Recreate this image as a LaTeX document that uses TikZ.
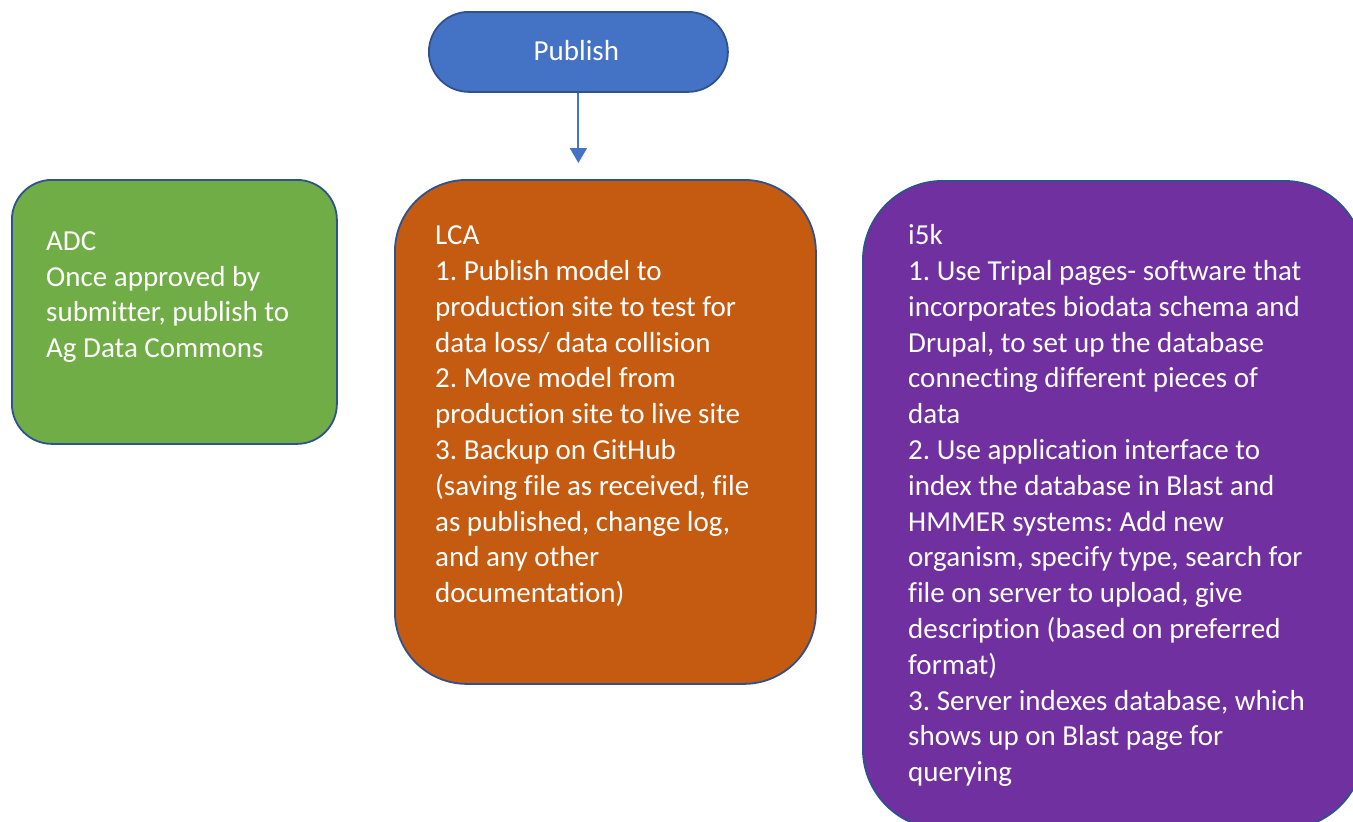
\documentclass[tikz,border=0pt]{standalone}
\usepackage{fontspec}
\setmainfont[Ligatures=NoCommon]{Carlito}
\usetikzlibrary{arrows.meta,positioning}
\definecolor{pubblue}{HTML}{4472C4}
\definecolor{edgeblue}{HTML}{2F528F}
\definecolor{adcgreen}{HTML}{70AD47}
\definecolor{lcaorange}{HTML}{C55A11}
\definecolor{ifivepurple}{HTML}{7030A0}
\newcommand{\firstline}{\rule{0pt}{25pt}}
\frenchspacing
\tikzset{
  x=1pt, y=-1pt,
  panel/.style={draw=edgeblue, line width=1.8pt, inner sep=0pt, anchor=north west},
  paneltext/.style={text=white, align=left, inner sep=0pt, anchor=north west,
    font=\fontsize{29}{35.8}\selectfont},
  flow/.style={draw=pubblue, line width=2pt, -{Triangle[length=15pt,width=17pt]}}
}
\begin{document}
\begin{tikzpicture}
\useasboundingbox (0,0) rectangle (1353,822);
\begin{scope}
\clip (0,0) rectangle (1353,822);
% start node
\node[panel, fill=pubblue, rounded corners=40pt, minimum width=299pt, minimum height=80pt]
  (pub) at (428,11) {};
% three repository panels
\node[panel, fill=adcgreen, rounded corners=40pt, minimum width=325pt, minimum height=264pt]
  (adc) at (11,179) {};
\node[panel, fill=lcaorange, rounded corners=72pt, minimum width=421pt, minimum height=504pt]
  (lca) at (394,179) {};
\node[panel, fill=ifivepurple, rounded corners=80pt, minimum width=501pt, minimum height=648pt]
  (i5k) at (862,180) {};
\end{scope}
\node[text=white, font=\fontsize{29}{35}\selectfont] (pubtext) at ([yshift=1pt,xshift=-2pt]pub.center) {Publish};
% panel texts (first baseline 25pt below the given top)
\node[paneltext] (adctext) at (46,225) {\firstline ADC\\Once approved by\\submitter, publish to\\Ag Data Commons};
\node[paneltext] (lcatext) at (435,219.5) {\firstline LCA\\1. Publish model to\\production site to test for\\data loss/ data collision\\2. Move model from\\production site to live site\\3. Backup on GitHub\\(saving file as received, file\\as published, change log,\\and any other\\documentation)};
\node[paneltext] (i5ktext) at (908,219.5) {\firstline i5k\\1. Use Tripal pages- software that\\incorporates biodata schema and\\Drupal, to set up the database\\connecting different pieces of\\data\\2. Use application interface to\\index the database in Blast and\\HMMER systems: Add new\\organism, specify type, search for\\file on server to upload, give\\description (based on preferred\\format)\\3. Server indexes database, which\\shows up on Blast page for\\querying};
% connector
\draw[flow, shorten >=16pt] (pub.south) -- (lca.north -| pub.south);
\end{tikzpicture}
\end{document}
